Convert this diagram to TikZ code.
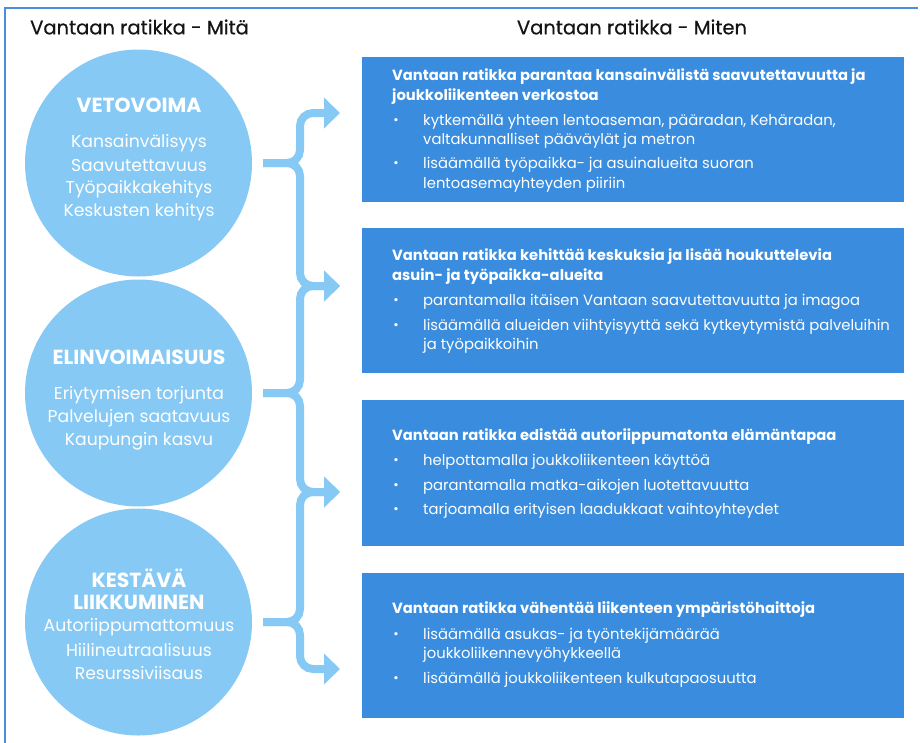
\documentclass[tikz,border=0pt]{standalone}
\usepackage{fontspec}
\setmainfont{Poppins}
\newfontfamily\titlefont{Poppins}[FakeBold=0.5]
\usetikzlibrary{arrows.meta}
\definecolor{cLight}{HTML}{86C9F4}
\definecolor{cBox}{HTML}{3A8DDE}
\definecolor{cFrame}{HTML}{4A8FDB}
\definecolor{cTitle}{HTML}{141414}
\tikzset{
  circ/.style={circle, fill=cLight, minimum size=227pt, inner sep=0pt},
  infobox/.style={fill=cBox, minimum width=542pt, minimum height=145pt, anchor=north west, inner sep=0pt},
  bhead/.style={anchor=west, inner sep=0pt, text=white, font=\bfseries\fontsize{14.75}{18}\selectfont},
  bitem/.style={anchor=west, inner sep=0pt, text=white, font=\fontsize{14.8}{17}\selectfont},
  bdot/.style={anchor=center, inner sep=0pt, text=white, font=\fontsize{13}{17}\selectfont},
  chead/.style={inner sep=0pt, text=white, font=\bfseries\fontsize{20.4}{22}\selectfont},
  ctext/.style={inner sep=0pt, text=white, font=\fontsize{17.2}{19}\selectfont},
  ptitle/.style={inner sep=0pt, text=cTitle, font=\titlefont\fontsize{19.5}{22}\selectfont},
  conn/.style={draw=cLight, line width=8pt, rounded corners=13pt, -{Triangle[length=16pt,width=30pt]}},
}
\begin{document}
\begin{tikzpicture}[x=1pt,y=-1pt]
\useasboundingbox (0,0) rectangle (920,742);
% frame
\draw[cFrame, line width=1.6pt] (5,760) -- (5,8) -- (918,8);
% titles
\node[ptitle, anchor=west] (t1) at (30,27) {Vantaan ratikka - Mitä};
\node[ptitle] (t2) at (632,27) {Vantaan ratikka - Miten};
% circles
\node[circ] (c1) at (138.5,163) {};
\node[circ] (c2) at (138.5,393) {};
\node[circ] (c3) at (138.5,622) {};
\node[chead] (c1h) at (139,105) {VETOVOIMA};
\node[ctext] (c1a) at (139,143) {Kansainvälisyys};
\node[ctext] (c1b) at (139,166) {Saavutettavuus};
\node[ctext] (c1c) at (139,189) {Työpaikkakehitys};
\node[ctext] (c1d) at (139,212) {Keskusten kehitys};
\node[chead] (c2h) at (139,357) {ELINVOIMAISUUS};
\node[ctext] (c2a) at (139,395) {Eriytymisen torjunta};
\node[ctext] (c2b) at (139,418) {Palvelujen saatavuus};
\node[ctext] (c2c) at (139,441) {Kaupungin kasvu};
\node[chead] (c3h) at (139,578) {KESTÄVÄ};
\node[chead] (c3i) at (139,602) {LIIKKUMINEN};
\node[ctext] (c3a) at (139,627) {Autoriippumattomuus};
\node[ctext] (c3b) at (139,650) {Hiilineutraalisuus};
\node[ctext] (c3c) at (139,673) {Resurssiviisaus};
% boxes
\node[infobox] (b1) at (362,57) {};
\node[infobox] (b2) at (362,228) {};
\node[infobox, minimum height=146pt] (b3) at (362,400) {};
\node[infobox] (b4) at (362,573) {};
% box 1
\node[bhead] (b1h1) at (392,77) {Vantaan ratikka parantaa kansainvälistä saavutettavuutta ja};
\node[bhead] (b1h2) at (392,97) {joukkoliikenteen verkostoa};
\node[bdot] (b1d1) at (396,122) {•};
\node[bitem] (b1i1) at (423,122) {kytkemällä yhteen lentoaseman, pääradan, Kehäradan,};
\node[bitem] (b1i1b) at (423,141) {valtakunnalliset pääväylät ja metron};
\node[bdot] (b1d2) at (396,165) {•};
\node[bitem] (b1i2) at (423,165) {lisäämällä työpaikka- ja asuinalueita suoran};
\node[bitem] (b1i2b) at (423,185) {lentoasemayhteyden piiriin};
% box 2
\node[bhead] (b2h1) at (392,257) {Vantaan ratikka kehittää keskuksia ja lisää houkuttelevia};
\node[bhead] (b2h2) at (392,277) {asuin- ja työpaikka-alueita};
\node[bdot] (b2d1) at (396,302) {•};
\node[bitem] (b2i1) at (423,302) {parantamalla itäisen Vantaan saavutettavuutta ja imagoa};
\node[bdot] (b2d2) at (396,327) {•};
\node[bitem] (b2i2) at (423,327) {lisäämällä alueiden viihtyisyyttä sekä kytkeytymistä palveluihin};
\node[bitem] (b2i2b) at (423,346) {ja työpaikkoihin};
% box 3
\node[bhead] (b3h1) at (392,437) {Vantaan ratikka edistää autoriippumatonta elämäntapaa};
\node[bdot] (b3d1) at (396,462) {•};
\node[bitem] (b3i1) at (423,462) {helpottamalla joukkoliikenteen käyttöä};
\node[bdot] (b3d2) at (396,487) {•};
\node[bitem] (b3i2) at (423,487) {parantamalla matka-aikojen luotettavuutta};
\node[bdot] (b3d3) at (396,511) {•};
\node[bitem] (b3i3) at (423,511) {tarjoamalla erityisen laadukkaat vaihtoyhteydet};
% box 4
\node[bhead] (b4h1) at (392,610) {Vantaan ratikka vähentää liikenteen ympäristöhaittoja};
\node[bdot] (b4d1) at (396,636) {•};
\node[bitem] (b4i1) at (423,636) {lisäämällä asukas- ja työntekijämäärää};
\node[bitem] (b4i1b) at (423,655) {joukkoliikennevyöhykkeellä};
\node[bdot] (b4d2) at (396,680) {•};
\node[bitem] (b4i2) at (423,680) {lisäämällä joukkoliikenteen kulkutapaosuutta};
% connector anchor points
\coordinate (s1) at ([xshift=11pt]c1.east);
\coordinate (s2) at ([xshift=11pt]c2.east);
\coordinate (s3) at ([xshift=11pt]c3.east);
\coordinate (a1) at ([xshift=-22pt]b1.west |- 0,113);
\coordinate (a2) at ([xshift=-22pt]b2.west |- 0,286);
\coordinate (a3) at ([xshift=-22pt]b3.west |- 0,492);
\coordinate (a4) at ([xshift=-22pt]b4.west |- 0,669);
\draw[conn] (s1) -- (300,163) |- (a1);
\draw[conn] (s1) -- (300,163) |- (a2);
\draw[conn] (s2) -- (300,393) |- (a2);
\draw[conn] (s2) -- (300,393) |- (a3);
\draw[conn] (s3) -- (300,622) |- (a3);
\draw[conn] (s3) -- (300,622) |- (a4);
\end{tikzpicture}
\end{document}
